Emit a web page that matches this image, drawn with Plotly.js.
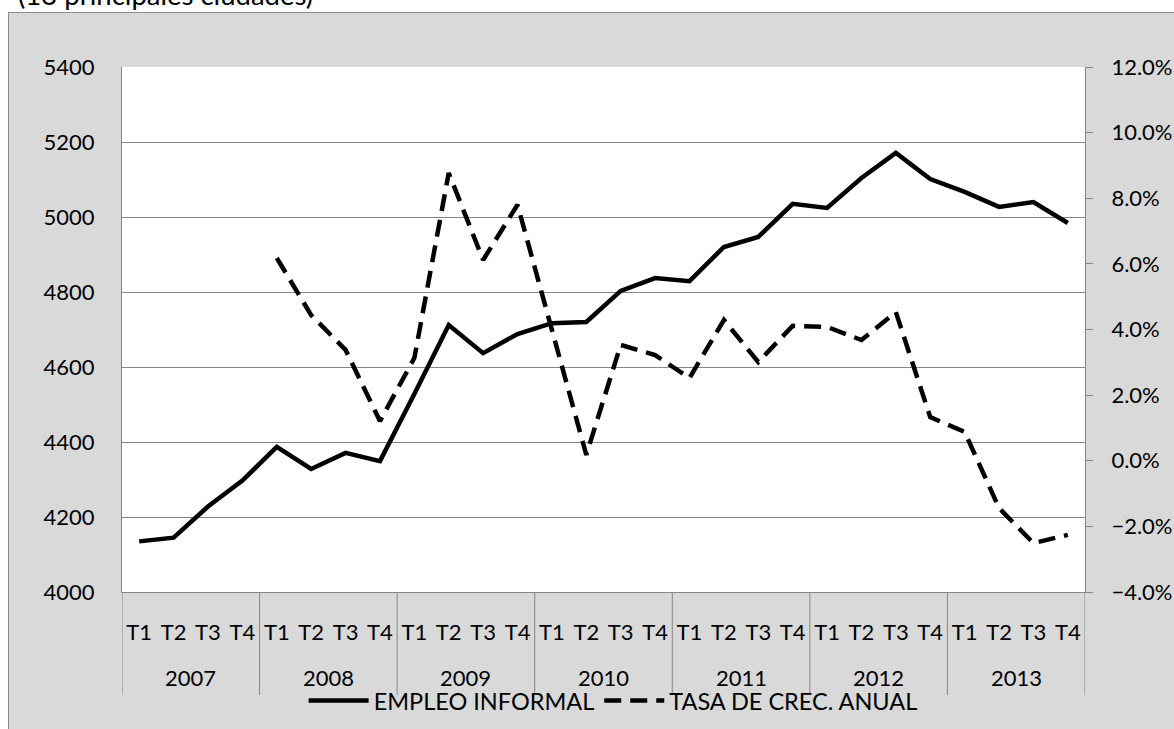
<!DOCTYPE html>
<html>
<head>
<meta charset="utf-8">
<script src="https://cdn.plot.ly/plotly-3.0.1.min.js"></script>
<style>
  html, body { margin: 0; padding: 0; background: #ffffff; overflow: hidden; }
  #note { position: absolute; left: 18px; top: -19px; font-family: Lato, "Open Sans", sans-serif; font-size: 27.5px; line-height: 1; color: #000; white-space: nowrap; }
  #frame { position: absolute; left: 8px; top: 12px; width: 1166px; height: 717px; background: #d9d9d9; border-left: 1px solid #8c8c8c; border-top: 1px solid #8c8c8c; box-sizing: border-box; }
  #chart { position: absolute; left: 0; top: 0; width: 1165px; height: 716px; }
</style>
</head>
<body>
<div id="note">(13 principales ciudades)</div>
<div id="frame"><div id="chart"></div></div>
<script>
// ---- data ----
const years = ['2007', '2008', '2009', '2010', '2011', '2012', '2013'];
const quarters = ['T1', 'T2', 'T3', 'T4'];
// Empleo informal (miles de personas), T1 2007 ... T4 2013
const empleoInformal = [
  4135, 4145, 4228, 4297,
  4387, 4328, 4371, 4349,
  4528, 4712, 4637, 4688,
  4717, 4720, 4803, 4837,
  4829, 4920, 4947, 5035,
  5024, 5104, 5171, 5101,
  5067, 5027, 5040, 4984
];
// Tasa de crecimiento anual
const tasaCrecAnual = [
  null, null, null, null,
  0.0618, 0.0444, 0.0338, 0.0121,
  0.0313, 0.0877, 0.0612, 0.0780,
  0.0399, 0.0018, 0.0353, 0.0322,
  0.0252, 0.0429, 0.0301, 0.0411,
  0.0408, 0.0368, 0.0453, 0.0133,
  0.0088, -0.0144, -0.0251, -0.0226
];
const seriesNames = ['EMPLEO INFORMAL', 'TASA DE CREC. ANUAL'];

// category positions (one per quarter) and their labels
const xIdx = [], xTickText = [];
years.forEach((y, yi) => quarters.forEach((q, qi) => {
  xIdx.push(yi * quarters.length + qi);
  xTickText.push(q);
}));
const nCat = xIdx.length;
const nQ = quarters.length;

const FONT = 'Lato, "Open Sans", sans-serif';
const AXC = '#868686';

const traces = [
  {
    x: xIdx, y: empleoInformal, name: seriesNames[0],
    type: 'scatter', mode: 'lines', yaxis: 'y',
    line: { color: '#000000', width: 4.5 }
  },
  {
    x: xIdx, y: tasaCrecAnual, name: seriesNames[1],
    type: 'scatter', mode: 'lines', yaxis: 'y2', connectgaps: false,
    line: { color: '#000000', width: 4.5, dash: '17px,9px' }
  }
];

// year group labels and dividers on the category axis
const yearAnnotations = years.map((y, yi) => ({
  x: yi * nQ + (nQ - 1) / 2, xref: 'x',
  y: -0.163, yref: 'paper', yanchor: 'middle', xanchor: 'center',
  text: y, showarrow: false, borderpad: 0,
  font: { family: FONT, size: 22, color: '#000' }
}));
const dividerShapes = [];
for (let k = 0; k <= years.length; k++) {
  dividerShapes.push({
    type: 'line', xref: 'x', yref: 'paper',
    x0: k * nQ - 0.5, x1: k * nQ - 0.5, y0: 0, y1: -0.196,
    line: { color: AXC, width: 1 }
  });
}

const layout = {
  width: 1165, height: 716,
  margin: { l: 113, r: 89, t: 54, b: 137, autoexpand: false },
  paper_bgcolor: '#d9d9d9',
  plot_bgcolor: '#ffffff',
  font: { family: FONT, size: 22, color: '#000000' },
  showlegend: true,
  legend: {
    orientation: 'h', x: 0.51, xanchor: 'center', y: -0.207, yanchor: 'middle',
    bgcolor: 'rgba(0,0,0,0)', font: { family: FONT, size: 23.5, color: '#000' },
    itemwidth: 60, tracegroupgap: 0
  },
  xaxis: {
    type: 'linear', automargin: false,
    range: [-0.5, nCat - 0.5], autorange: false,
    tickmode: 'array', tickvals: xIdx, ticktext: xTickText,
    showline: true, linecolor: AXC, linewidth: 1,
    showgrid: false, zeroline: false, ticks: '',
    ticklabelstandoff: 21,
    tickfont: { family: FONT, size: 22, color: '#000' }
  },
  yaxis: {
    automargin: false,
    range: [4000, 5400], dtick: 200, tick0: 4000,
    showline: true, linecolor: AXC, linewidth: 1,
    showgrid: true, gridcolor: AXC, gridwidth: 1,
    zeroline: false, ticks: '', ticklabelstandoff: 22,
    tickfont: { family: FONT, size: 22, color: '#000' }
  },
  yaxis2: {
    automargin: false,
    overlaying: 'y', side: 'right',
    range: [-0.04, 0.12], dtick: 0.02, tick0: -0.04, tickformat: '.1%',
    showline: true, linecolor: AXC, linewidth: 1,
    showgrid: false, zeroline: false,
    ticks: 'outside', ticklen: 7, tickcolor: AXC, ticklabelstandoff: 14,
    tickfont: { family: FONT, size: 22, color: '#000' }
  },
  annotations: yearAnnotations,
  shapes: dividerShapes
};

Plotly.newPlot('chart', traces, layout, { staticPlot: true, displayModeBar: false });
</script>
</body>
</html>
